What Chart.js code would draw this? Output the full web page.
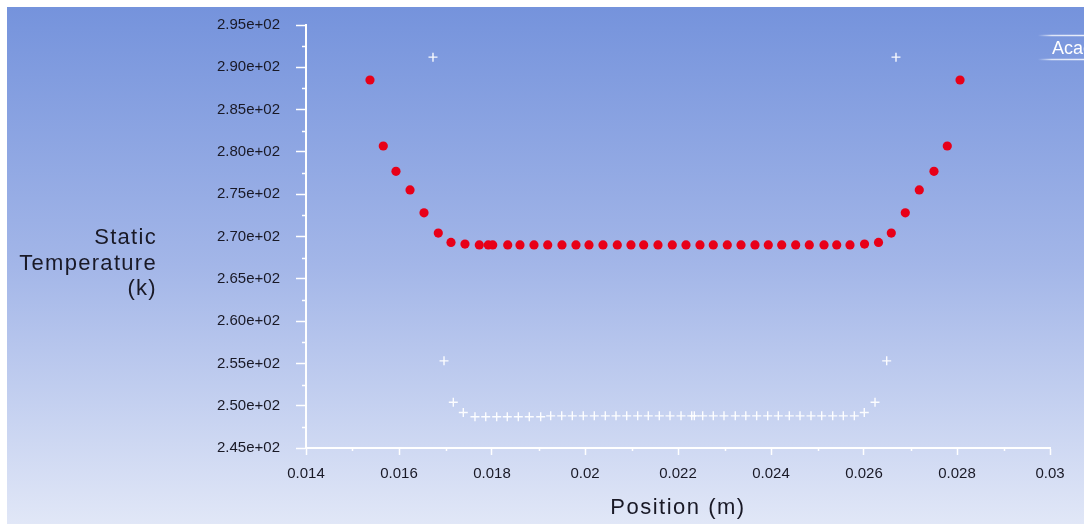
<!DOCTYPE html>
<html>
<head>
<meta charset="utf-8">
<script src="https://cdn.jsdelivr.net/npm/chart.js@4.4.1/dist/chart.umd.min.js"></script>
<style>
  html, body { margin: 0; padding: 0; background: #fff; }
  #wrap { width: 1084px; height: 524px; position: relative; }
</style>
</head>
<body>
<div id="wrap"><canvas id="myChart"></canvas></div>
<script>
// red dots - position (m) / static temperature (K)
const redPos = [
  0.015376, 0.015662, 0.015935, 0.016237, 0.016538, 0.016845, 0.017118, 0.017419,
  0.017727, 0.017920, 0.018015, 0.018338, 0.018602, 0.018903, 0.019198, 0.019505,
  0.019806, 0.020086, 0.020387, 0.020695, 0.020989, 0.021262, 0.021570, 0.021877,
  0.022172, 0.022473, 0.022759, 0.023060, 0.023355, 0.023656, 0.023942, 0.024230,
  0.024531, 0.024824, 0.025140, 0.025413, 0.025699, 0.026011, 0.026312, 0.026587,
  0.026888, 0.027189, 0.027505, 0.027791, 0.028065
];
const redTemp = [
  288.5, 280.7, 277.7, 275.5, 272.8, 270.4, 269.3, 269.1,
  269.0, 269.0, 269.0, 269.0, 269.0, 269.0, 269.0, 269.0,
  269.0, 269.0, 269.0, 269.0, 269.0, 269.0, 269.0, 269.0,
  269.0, 269.0, 269.0, 269.0, 269.0, 269.0, 269.0, 269.0,
  269.0, 269.0, 269.0, 269.0, 269.0, 269.1, 269.3, 270.4,
  272.8, 275.5, 277.7, 280.7, 288.5
];

// white crosses
const whitePos = [
  0.016731, 0.016968, 0.017168, 0.017383,
  0.017634, 0.017865, 0.018101, 0.018329, 0.018566, 0.018802, 0.019047, 0.019262,
  0.019499, 0.019727, 0.019963, 0.020200, 0.020437, 0.020667, 0.020897, 0.021133,
  0.021361, 0.021598, 0.021828, 0.022065, 0.022295, 0.022351, 0.022531, 0.022759,
  0.022989, 0.023232, 0.023458, 0.023692, 0.023929, 0.024157, 0.024394, 0.024624,
  0.024860, 0.025090, 0.025327, 0.025555, 0.025792,
  0.026006, 0.026237, 0.026488, 0.026688
];
const whiteTemp = [
  291.2, 255.3, 250.4, 249.2,
  248.7, 248.7, 248.7, 248.7, 248.7, 248.7, 248.7, 248.8,
  248.8, 248.8, 248.8, 248.8, 248.8, 248.8, 248.8, 248.8,
  248.8, 248.8, 248.8, 248.8, 248.8, 248.8, 248.8, 248.8,
  248.8, 248.8, 248.8, 248.8, 248.8, 248.8, 248.8, 248.8,
  248.8, 248.8, 248.8, 248.8, 248.8,
  249.2, 250.4, 255.3, 291.2
];

const yTitle = ["Static", "Temperature", "(k)"];
const xTitle = "Position (m)";
const textColor = "#191926";

const backdrop = {
  id: "backdrop",
  beforeDraw(chart) {
    const ctx = chart.ctx;
    ctx.save();
    ctx.fillStyle = "#fff";
    ctx.fillRect(0, 0, chart.width, chart.height);
    const g = ctx.createLinearGradient(0, 7, 0, chart.height);
    g.addColorStop(0, "#7593dc");
    g.addColorStop(0.5, "#a3b6e8");
    g.addColorStop(1, "#e1e7f7");
    ctx.fillStyle = g;
    ctx.fillRect(7, 7, chart.width - 7, chart.height - 7);
    ctx.restore();
  }
};

const extras = {
  id: "extras",
  afterDraw(chart) {
    const ctx = chart.ctx;
    const xs = chart.scales.x, ys = chart.scales.y;
    const area = chart.chartArea;
    ctx.save();
    // minor ticks
    ctx.strokeStyle = "#fff";
    ctx.lineWidth = 1.5;
    ctx.beginPath();
    for (let v = 247.5; v < 295; v += 5) {
      const p = Math.round(ys.getPixelForValue(v)) + 0.5;
      ctx.moveTo(area.left - 4, p);
      ctx.lineTo(area.left, p);
    }
    for (let i = 15; i < 30; i += 2) {
      const p = Math.round(xs.getPixelForValue(i / 1000)) + 0.5;
      ctx.moveTo(p, area.bottom);
      ctx.lineTo(p, area.bottom + 3);
    }
    ctx.stroke();

    // axis titles
    ctx.fillStyle = textColor;
    ctx.font = "22px 'Liberation Sans', Arial, sans-serif";
    ctx.letterSpacing = "1.3px";
    ctx.textAlign = "right";
    ctx.textBaseline = "alphabetic";
    yTitle.forEach((t, i) => ctx.fillText(t, 157, 244 + i * 25.5));
    ctx.letterSpacing = "1.5px";
    ctx.textAlign = "center";
    ctx.fillText(xTitle, 678, 514);

    // watermark tab at top right
    ctx.letterSpacing = "0px";
    const lg = ctx.createLinearGradient(1038, 0, 1084, 0);
    lg.addColorStop(0, "rgba(255,255,255,0)");
    lg.addColorStop(0.3, "rgba(255,255,255,0.75)");
    lg.addColorStop(1, "rgba(255,255,255,0.85)");
    ctx.strokeStyle = lg;
    ctx.lineWidth = 1.5;
    ctx.beginPath();
    ctx.moveTo(1036, 35.5); ctx.lineTo(1084, 35.5);
    ctx.moveTo(1036, 59.5); ctx.lineTo(1084, 59.5);
    ctx.stroke();
    ctx.fillStyle = "#fff";
    ctx.font = "18px 'Liberation Sans', Arial, sans-serif";
    ctx.textAlign = "left";
    ctx.fillText("Academic", 1052, 54);
    ctx.restore();
  }
};

const data = {
  datasets: [
    {
      label: "red",
      data: redPos.map((x, i) => ({ x: x, y: redTemp[i] })),
      pointStyle: "circle",
      pointRadius: 4.6,
      backgroundColor: "rgb(232,0,24)",
      borderWidth: 0
    },
    {
      label: "white",
      data: whitePos.map((x, i) => ({ x: x, y: whiteTemp[i] })),
      pointStyle: "cross",
      pointRadius: 4.5,
      borderColor: "rgba(255,255,255,0.95)",
      borderWidth: 1.4
    }
  ]
};

const config = {
  type: "scatter",
  data: data,
  plugins: [backdrop, extras],
  options: {
    responsive: true,
    maintainAspectRatio: false,
    animation: false,
    layout: { padding: { left: 0, top: 23, right: 34, bottom: 0 } },
    plugins: { legend: { display: false }, tooltip: { enabled: false } },
    scales: {
      x: {
        type: "linear",
        min: 0.014,
        max: 0.03,
        afterFit(scale) { scale.height = 76; },
        ticks: {
          stepSize: 0.002,
          padding: 10,
          color: textColor,
          font: { family: "'Liberation Sans', Arial, sans-serif", size: 15 },
          callback: v => parseFloat(v.toFixed(3)).toString()
        },
        grid: { drawOnChartArea: false, tickLength: 7, tickColor: "#fff", tickWidth: 1.5 },
        border: { display: true, color: "#fff", width: 2 }
      },
      y: {
        min: 245,
        max: 295,
        afterFit(scale) { scale.width = 306; },
        ticks: {
          stepSize: 5,
          padding: 16,
          color: textColor,
          font: { family: "'Liberation Sans', Arial, sans-serif", size: 15 },
          callback: v => (v / 100).toFixed(2) + "e+02"
        },
        grid: { drawOnChartArea: false, tickLength: 10, tickColor: "#fff", tickWidth: 1.5 },
        border: { display: true, color: "#fff", width: 2 }
      }
    }
  }
};

const myChart = new Chart(document.getElementById("myChart"), config);
</script>
</body>
</html>
